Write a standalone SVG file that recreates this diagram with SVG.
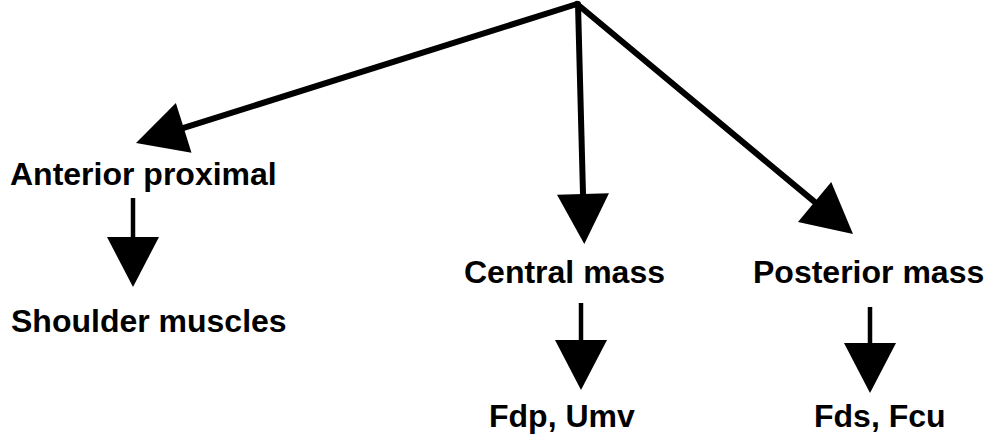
<svg xmlns="http://www.w3.org/2000/svg" width="995" height="444" viewBox="0 0 995 444">
<style>
.lbl{font-family:"Liberation Sans",Arial,sans-serif;font-weight:bold;font-size:32px;fill:#000}
.main{stroke:#000;stroke-width:6;fill:none;stroke-linecap:round;stroke-linejoin:round}
.sub{stroke:#000;stroke-width:4.5;fill:none}
</style>
<defs>
<marker id="ah" markerUnits="userSpaceOnUse" markerWidth="52" markerHeight="54" refX="0" refY="26" orient="auto" overflow="visible">
<path d="M0,0 L50,26 L0,52 z" fill="#000"/>
</marker>
</defs>
<rect width="995" height="444" fill="#fff"/>
<g id="connectors">
<path class="main" d="M577,4 L183.7,127.9" marker-end="url(#ah)"/>
<path class="main" d="M578,4 L583,194" marker-end="url(#ah)"/>
<path class="main" d="M577,4 L814.6,201.9" marker-end="url(#ah)"/>
<path class="sub" d="M133,198 L133,237" marker-end="url(#ah)"/>
<path class="sub" d="M581,303 L581,340" marker-end="url(#ah)"/>
<path class="sub" d="M870,307 L870,343" marker-end="url(#ah)"/>
</g>
<g id="anterior"><text class="lbl" x="10" y="185">Anterior proximal</text></g>
<g id="shoulder"><text class="lbl" x="11" y="332">Shoulder muscles</text></g>
<g id="central"><text class="lbl" x="464" y="283">Central mass</text></g>
<g id="posterior"><text class="lbl" x="753" y="283">Posterior mass</text></g>
<g id="fdp"><text class="lbl" x="489" y="427">Fdp, Umv</text></g>
<g id="fds"><text class="lbl" x="814" y="427">Fds, Fcu</text></g>
</svg>
